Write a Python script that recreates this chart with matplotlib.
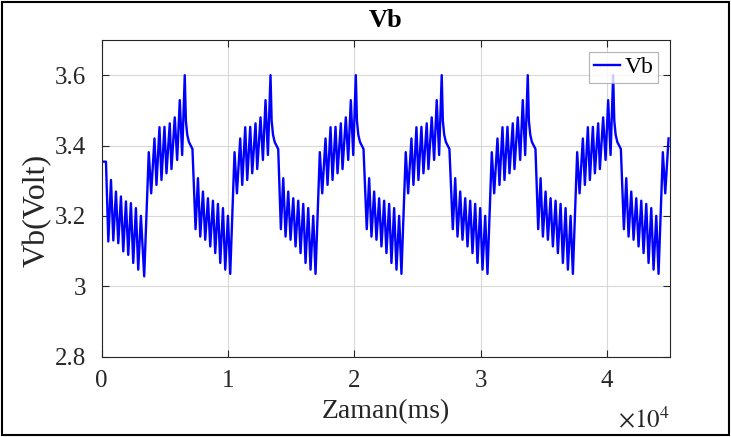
import matplotlib
matplotlib.use("Agg")
import matplotlib.pyplot as plt
from matplotlib.ticker import FuncFormatter, FixedLocator
from matplotlib.patches import Rectangle

# Opening stretch: rest level, then the first discharge ripple (ms, V)
start_t = [0, 355, 540, 750, 934, 1144, 1329, 1539, 1723, 1934, 2118,
           2328, 2512, 2723, 2907, 3118, 3380]
start_v = [3.354, 3.354, 3.127, 3.302, 3.130, 3.269, 3.122, 3.255, 3.099,
           3.241, 3.089, 3.236, 3.066, 3.222, 3.047, 3.200, 3.028]

# Times of the 3.6 V charge peaks (the last one falls after the record ends)
peak_t = [6590, 13378, 20130, 26930, 33741, 40500, 47282]
peak_v = 3.60

# Discharge ripple of a cycle, as ms offsets before its peak
low_dt = [-5933, -5743, -5561, -5348, -5166, -4952, -4770, -4557,
          -4375, -4161, -3979, -3765, -3583, -3370, -3188]
low_v = [3.162, 3.307, 3.141, 3.269, 3.132, 3.250, 3.113, 3.243,
         3.094, 3.234, 3.066, 3.222, 3.047, 3.200, 3.035]

# Charge ripple leading up to the peak
high_dt = [-2848, -2658, -2397, -2239, -2001, -1843, -1606, -1447,
           -1186, -1052, -791, -601, -395, -205]
high_v = [3.381, 3.264, 3.420, 3.288, 3.452, 3.302, 3.453, 3.321,
          3.463, 3.333, 3.480, 3.359, 3.529, 3.373]

# Relaxation right after the peak, before the step down
decay_dt = [90, 200, 330, 470, 610]
decay_v = [3.47, 3.43, 3.41, 3.40, 3.39]

t_end = 45000

# assemble the trace
t = list(start_t)
v = list(start_v)
for i, p in enumerate(peak_t):
    if i > 0:
        t += [p + d for d in low_dt]
        v += low_v
    t += [p + d for d in high_dt] + [p] + [p + d for d in decay_dt]
    v += high_v + [peak_v] + decay_v
pts = [(a, b) for a, b in zip(t, v) if a <= t_end]
t = [a for a, _ in pts]
v = [b for _, b in pts]

plt.rcParams['font.family'] = ['Liberation Serif', 'DejaVu Serif']
plt.rcParams['mathtext.fontset'] = 'stix'

W, H = 731, 437
fig = plt.figure(figsize=(W / 100, H / 100), dpi=100)
ax = fig.add_axes([101.5 / W, 1 - 356.5 / H, (670 - 101.5) / W, (356.5 - 40) / H])

ink = '#262626'
ax.plot(t, v, color='#0000ff', lw=1.7, label='Vb')

ax.set_xlim(0, t_end)
ax.set_ylim(2.8, 3.7)
ax.xaxis.set_major_locator(FixedLocator([0, 10000, 20000, 30000, 40000]))
ax.yaxis.set_major_locator(FixedLocator([2.8, 3.0, 3.2, 3.4, 3.6]))
ax.xaxis.set_major_formatter(FuncFormatter(lambda x, _: f"{x / 1e4:g}"))
ax.yaxis.set_major_formatter(FuncFormatter(lambda y, _: f"{y:g}"))

ax.grid(True, color='#d9d9d9', lw=0.8)
ax.set_axisbelow(True)
ax.tick_params(direction='in', length=5, width=0.8, colors=ink,
               labelsize=18, top=True, right=True)
ax.tick_params(axis='x', pad=10)
ax.tick_params(axis='y', pad=11)
for s in ax.spines.values():
    s.set_color(ink)
    s.set_linewidth(0.8)

ax.set_title('Vb', fontsize=19, fontweight='bold', color='black', pad=9)
ax.set_xlabel('Zaman(ms)', fontsize=20, color=ink, labelpad=5)
ax.set_ylabel('Vb(Volt)', fontsize=23, color=ink)
ax.yaxis.set_label_coords(-0.088, 0.46)
ax.text(1.0, -0.2, r'$\times10^{4}$', transform=ax.transAxes,
        ha='right', va='center', fontsize=18, color=ink)

leg = ax.legend(loc='upper right', fontsize=17, frameon=True, fancybox=False,
                handlelength=1.1, handletextpad=0.2, borderpad=0.2,
                borderaxespad=0.5)
leg.get_frame().set_edgecolor('#a0a0a0')
leg.get_frame().set_linewidth(0.8)

fig.patches.append(Rectangle((2 / W, 2 / H), 1 - 4 / W, 1 - 4 / H,
                             transform=fig.transFigure, fill=False,
                             edgecolor='black', lw=1.5))

fig.savefig('out.png', dpi=100)
